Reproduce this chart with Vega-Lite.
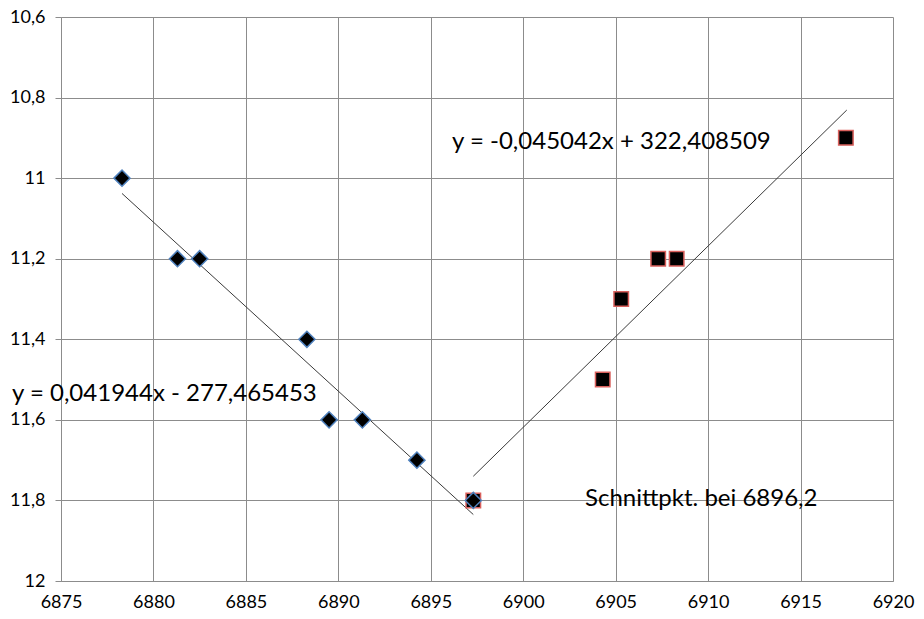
{
  "$schema": "https://vega.github.io/schema/vega-lite/v6.json",
  "width": 832,
  "height": 564,
  "autosize": "none",
  "padding": {"left": 61, "top": 17, "right": 31, "bottom": 38},
  "background": "white",
  "config": {
    "view": {"stroke": null},
    "font": "Lato",
    "axis": {"labelFont": "Lato", "labelColor": "#000000", "gridColor": "#8c8c8c", "gridWidth": 1, "domainColor": "#8c8c8c", "tickColor": "#8c8c8c", "gridOpacity": 1, "labelFlush": false, "labelOverlap": false}
  },
  "datasets": {
    "points": [
      {"series": "Reihe 2", "x": 6897.3, "y": 11.8},
      {"series": "Reihe 2", "x": 6904.3, "y": 11.5},
      {"series": "Reihe 2", "x": 6905.3, "y": 11.3},
      {"series": "Reihe 2", "x": 6907.3, "y": 11.2},
      {"series": "Reihe 2", "x": 6908.3, "y": 11.2},
      {"series": "Reihe 2", "x": 6917.45, "y": 10.9},
      {"series": "Reihe 1", "x": 6878.3, "y": 11.0},
      {"series": "Reihe 1", "x": 6881.3, "y": 11.2},
      {"series": "Reihe 1", "x": 6882.5, "y": 11.2},
      {"series": "Reihe 1", "x": 6888.3, "y": 11.4},
      {"series": "Reihe 1", "x": 6889.5, "y": 11.6},
      {"series": "Reihe 1", "x": 6891.3, "y": 11.6},
      {"series": "Reihe 1", "x": 6894.25, "y": 11.7},
      {"series": "Reihe 1", "x": 6897.3, "y": 11.8}
    ],
    "trend": [
      {"line": "Trend 1", "x": 6878.3, "y": 11.038},
      {"line": "Trend 1", "x": 6897.3, "y": 11.835},
      {"line": "Trend 2", "x": 6897.3, "y": 11.740},
      {"line": "Trend 2", "x": 6917.5, "y": 10.831}
    ],
    "labels": [
      {"text": "y = -0,045042x + 322,408509", "x": 6896.15, "y": 10.91},
      {"text": "y = 0,041944x - 277,465453", "x": 6872.35, "y": 11.536},
      {"text": "Schnittpkt. bei 6896,2", "x": 6903.34, "y": 11.796}
    ]
  },
  "layer": [
    {
      "data": {"name": "trend"},
      "mark": {"type": "line", "color": "#3a3a3a", "strokeWidth": 1},
      "encoding": {
        "x": {"field": "x", "type": "quantitative", "scale": {"domain": [6875, 6920], "nice": false, "zero": false},
          "axis": {"title": null, "values": [6875, 6880, 6885, 6890, 6895, 6900, 6905, 6910, 6915, 6920], "tickSize": 0, "labelPadding": 12, "format": "d", "grid": true, "domain": true, "labelFontSize": 18, "labelFont": "Lato", "labelFlush": false}},
        "y": {"field": "y", "type": "quantitative", "scale": {"domain": [10.6, 12], "reverse": true, "nice": false, "zero": false},
          "axis": {"title": null, "values": [10.6, 10.8, 11, 11.2, 11.4, 11.6, 11.8, 12], "tickSize": 6, "labelPadding": 10, "grid": true, "domain": true, "labelFontSize": 18, "labelFont": "Lato", "labelFlush": false,
            "labelExpr": "replace(format(datum.value, '~g'), '.', ',')"}},
        "detail": {"field": "line"}
      }
    },
    {
      "data": {"name": "points"},
      "transform": [{"filter": "datum.series == 'Reihe 2'"}],
      "mark": {"type": "point", "shape": "square", "filled": true, "size": 210, "fill": "#000000", "stroke": "#d9605c", "strokeWidth": 1.5, "opacity": 1},
      "encoding": {
        "x": {"field": "x", "type": "quantitative"},
        "y": {"field": "y", "type": "quantitative"}
      }
    },
    {
      "data": {"name": "points"},
      "transform": [{"filter": "datum.series == 'Reihe 1'"}],
      "mark": {"type": "point", "shape": "diamond", "filled": true, "size": 260, "fill": "#000000", "stroke": "#4f81bd", "strokeWidth": 1.5, "opacity": 1},
      "encoding": {
        "x": {"field": "x", "type": "quantitative"},
        "y": {"field": "y", "type": "quantitative"}
      }
    },
    {
      "data": {"name": "labels"},
      "mark": {"type": "text", "align": "left", "baseline": "middle", "fontSize": 24, "font": "Lato", "color": "#000000"},
      "encoding": {
        "x": {"field": "x", "type": "quantitative"},
        "y": {"field": "y", "type": "quantitative"},
        "text": {"field": "text"}
      }
    }
  ]
}
